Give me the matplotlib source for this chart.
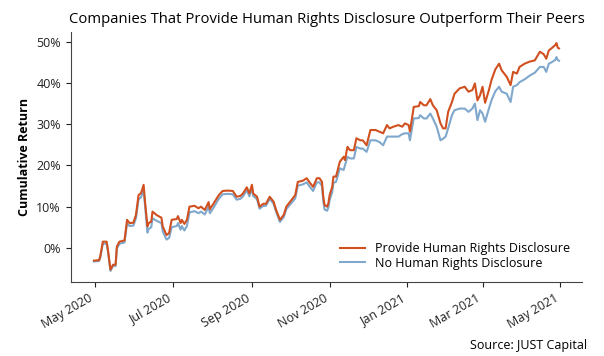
import matplotlib
matplotlib.use("Agg")
import matplotlib.pyplot as plt
import matplotlib.dates as mdates
import matplotlib.ticker as mticker
import pandas as pd

plt.rcParams['font.family'] = ['Open Sans', 'DejaVu Sans']

# dates of the traced points
dates = [
    "2020-04-30", "2020-05-04", "2020-05-05", "2020-05-07", "2020-05-10", "2020-05-11",
    "2020-05-13", "2020-05-15", "2020-05-17", "2020-05-18", "2020-05-20", "2020-05-24",
    "2020-05-26", "2020-05-28", "2020-05-31", "2020-06-02", "2020-06-04", "2020-06-06",
    "2020-06-08", "2020-06-09", "2020-06-11", "2020-06-12", "2020-06-14", "2020-06-15",
    "2020-06-18", "2020-06-22", "2020-06-23", "2020-06-26", "2020-06-28", "2020-06-30",
    "2020-07-04", "2020-07-05", "2020-07-07", "2020-07-08", "2020-07-10", "2020-07-12",
    "2020-07-14", "2020-07-18", "2020-07-21", "2020-07-23", "2020-07-26", "2020-07-29",
    "2020-07-30", "2020-08-02", "2020-08-06", "2020-08-09", "2020-08-13", "2020-08-17",
    "2020-08-20", "2020-08-23", "2020-08-25", "2020-08-28", "2020-08-30", "2020-09-01",
    "2020-09-02", "2020-09-05", "2020-09-07", "2020-09-10", "2020-09-12", "2020-09-15",
    "2020-09-18", "2020-09-20", "2020-09-23", "2020-09-26", "2020-09-28", "2020-10-02",
    "2020-10-05", "2020-10-07", "2020-10-11", "2020-10-14", "2020-10-16", "2020-10-19",
    "2020-10-22", "2020-10-24", "2020-10-26", "2020-10-27", "2020-10-28", "2020-10-30",
    "2020-10-31", "2020-11-01", "2020-11-03", "2020-11-04", "2020-11-06", "2020-11-09",
    "2020-11-12", "2020-11-13", "2020-11-15", "2020-11-17", "2020-11-20", "2020-11-22",
    "2020-11-25", "2020-11-27", "2020-11-30", "2020-12-03", "2020-12-07", "2020-12-10",
    "2020-12-13", "2020-12-16", "2020-12-18", "2020-12-21", "2020-12-25", "2020-12-28",
    "2020-12-30", "2021-01-02", "2021-01-03", "2021-01-06", "2021-01-10", "2021-01-11",
    "2021-01-14", "2021-01-16", "2021-01-19", "2021-01-21", "2021-01-24", "2021-01-27",
    "2021-01-29", "2021-01-31", "2021-02-02", "2021-02-05", "2021-02-07", "2021-02-11",
    "2021-02-15", "2021-02-18", "2021-02-21", "2021-02-23", "2021-02-25", "2021-02-27",
    "2021-03-01", "2021-03-03", "2021-03-06", "2021-03-08", "2021-03-11", "2021-03-14",
    "2021-03-16", "2021-03-20", "2021-03-23", "2021-03-25", "2021-03-28", "2021-03-30",
    "2021-04-03", "2021-04-07", "2021-04-11", "2021-04-15", "2021-04-18", "2021-04-20",
    "2021-04-22", "2021-04-24", "2021-04-27", "2021-04-28", "2021-04-29", "2021-04-30",
]

# cumulative return, percent
provide = [
    -3.1, -3.0, -2.0, 1.5, 1.5, -0.5,
    -5.3, -4.1, -4.1, 0.3, 1.5, 1.8,
    6.8, 6.0, 6.1, 8.0, 12.8, 13.3,
    15.3, 11.6, 5.2, 6.0, 6.4, 8.8,
    8.0, 7.3, 5.2, 3.1, 3.6, 6.8,
    7.0, 7.7, 6.0, 6.8, 5.8, 6.8,
    10.0, 10.2, 9.6, 10.0, 9.2, 11.1,
    9.4, 10.8, 12.8, 13.8, 13.9, 13.8,
    12.4, 12.6, 13.2, 14.7, 13.2, 15.3,
    13.2, 12.4, 10.0, 10.7, 10.7, 12.4,
    11.2, 9.2, 6.8, 8.0, 10.0, 11.6,
    12.8, 16.0, 16.3, 16.9, 16.0, 14.8,
    16.9, 16.9, 16.0, 12.4, 10.4, 10.0,
    10.8, 12.8, 14.8, 17.3, 17.3, 20.9,
    22.1, 21.3, 24.5, 23.7, 23.7, 26.6,
    26.1, 26.1, 24.9, 28.6, 28.6, 28.2,
    27.8, 29.8, 29.0, 29.4, 29.8, 29.4,
    30.2, 29.8, 28.2, 34.2, 34.4, 35.4,
    34.6, 34.6, 36.1, 34.6, 33.4, 30.2,
    29.0, 29.0, 33.0, 35.4, 37.4, 38.7,
    39.1, 37.9, 38.3, 39.9, 35.8, 37.0,
    39.1, 35.2, 38.3, 40.7, 43.3, 44.7,
    43.1, 41.5, 39.5, 42.7, 42.3, 43.9,
    44.7, 45.2, 45.5, 47.6, 47.0, 45.9,
    47.9, 48.4, 49.2, 49.7, 48.6, 48.4,
]

no_disclosure = [
    -3.3, -3.2, -2.4, 1.0, 1.0, -0.9,
    -5.6, -4.4, -4.4, -0.2, 1.0, 1.3,
    5.9, 5.3, 5.4, 7.2, 11.7, 12.3,
    14.1, 10.6, 3.7, 4.6, 5.0, 7.2,
    6.6, 6.0, 4.0, 2.0, 2.4, 5.0,
    5.3, 6.0, 4.4, 5.3, 4.2, 5.3,
    8.6, 8.9, 8.4, 8.8, 8.1, 10.0,
    8.4, 9.8, 11.9, 13.0, 13.1, 13.0,
    11.7, 11.9, 12.5, 14.0, 12.5, 14.5,
    12.6, 11.8, 9.5, 10.2, 10.2, 11.9,
    10.7, 8.7, 6.3, 7.5, 9.4, 10.9,
    12.0, 15.1, 15.4, 15.9, 15.0, 13.8,
    15.9, 15.9, 15.0, 11.4, 9.3, 9.0,
    9.8, 11.6, 13.5, 15.8, 16.0, 19.3,
    18.9, 20.0, 22.1, 21.7, 21.7, 24.5,
    24.1, 24.1, 23.3, 26.1, 26.1, 25.7,
    24.9, 27.0, 27.0, 27.0, 27.0, 27.6,
    27.8, 27.8, 26.1, 31.4, 31.5, 32.2,
    31.4, 31.4, 32.6, 31.4, 29.4, 26.1,
    26.5, 27.0, 29.0, 32.2, 33.4, 33.8,
    33.8, 33.0, 33.8, 35.0, 31.0, 33.4,
    32.6, 30.6, 33.8, 35.8, 38.0, 39.1,
    37.9, 37.4, 35.4, 39.1, 39.5, 40.2,
    40.9, 41.8, 42.5, 43.9, 43.9, 42.7,
    44.7, 45.0, 45.6, 46.3, 45.6, 45.4,
]

x = pd.to_datetime(dates)

fig = plt.figure(figsize=(6.04, 3.56), dpi=100)
ax = fig.add_axes([0.117, 0.207, 0.847, 0.704])

l_no, = ax.plot(x, no_disclosure, color='#7fa8cc', lw=1.5, label='No Human Rights Disclosure')
l_pr, = ax.plot(x, provide, color='#d0501f', lw=1.5, label='Provide Human Rights Disclosure')

ax.set_title('Companies That Provide Human Rights Disclosure Outperform Their Peers',
             fontsize=10.7, pad=6)
ax.set_ylabel('Cumulative Return', fontsize=9, fontweight='bold')
ax.yaxis.set_major_formatter(mticker.FuncFormatter(lambda v, p: f'{v:.0f}%'))
ax.xaxis.set_major_locator(mdates.MonthLocator(bymonth=[1, 3, 5, 7, 9, 11]))
ax.xaxis.set_major_formatter(mdates.DateFormatter('%b %Y'))
ax.tick_params(labelsize=9, colors='#222222')
for lbl in ax.get_xticklabels():
    lbl.set_rotation(30)
    lbl.set_ha('right')

for s in ['top', 'right']:
    ax.spines[s].set_visible(False)
for s in ['left', 'bottom']:
    ax.spines[s].set_color('#444444')

ax.legend(handles=[l_pr, l_no], loc='lower right', frameon=False, fontsize=9,
          labelspacing=0.15, borderaxespad=0.6)

fig.text(0.972, 0.012, 'Source: JUST Capital', ha='right', va='bottom', fontsize=9)

fig.savefig('out.png', dpi=100)
